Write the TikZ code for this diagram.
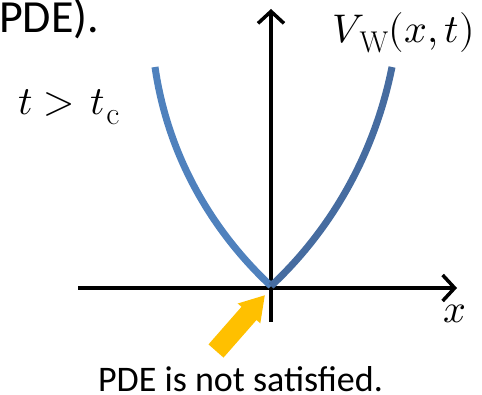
\documentclass[tikz,border=0pt]{standalone}
\usepackage{fontspec}
\usepackage{unicode-math}
\setmathfont{Latin Modern Math}
\setsansfont{Carlito}
\usetikzlibrary{arrows.meta}
\definecolor{curveL}{RGB}{79,129,189}
\definecolor{curveR}{RGB}{70,108,160}
\definecolor{gold}{RGB}{255,192,0}
\newcommand{\bigsub}[2]{\hbox{\rmfamily\upshape\fontsize{#1}{#1}\selectfont #2}}
\tikzset{
  axis/.style={line width=3.5pt, -{Straight Barb[length=12pt,width=26pt,line width=3.5pt]}},
  branch/.style={line width=7pt},
  bigmath/.style={inner sep=0pt, font=\fontsize{40}{48}\selectfont},
  sanslabel/.style={inner sep=0pt, font=\sffamily\fontsize{36}{43}\selectfont}
}
\begin{document}
\begin{tikzpicture}[x=1pt,y=-1pt]
\useasboundingbox (0,0) rectangle (482,395);
% axes
\coordinate (xl) at (78,288);
\coordinate (xr) at (457,288);
\coordinate (yb) at (271,322);
\coordinate (yt) at (271,9);
\coordinate (v) at (271,286);
\coordinate (lt) at (155,67);
\coordinate (rt) at (392,67);
\draw[axis] (xl) -- (xr);
\draw[axis] (yb) -- (yt);
% curve
\draw[branch, curveL] (v) .. controls (213,232) and (168,157) .. (lt);
\draw[branch, curveR] (v) .. controls (329,232) and (374,157) .. (rt);
% labels
\node[bigmath, anchor=base west] (tlab) at (18,115) {$t>\kern5pt t_{\kern1pt\bigsub{32}{c}}$};
\node[bigmath, anchor=base west] (vlab) at (332,43) {$V_{\kern4pt\bigsub{30}{W}}(x,t)$};
\node[bigmath, anchor=base west] (xlab) at (443,323) {$x$};
\node[inner sep=0pt, anchor=base west, font=\sffamily\fontsize{46}{55}\selectfont] (pde) at (-1,33) {PDE).};
\node[sanslabel, anchor=base] (note) at (240.5,391) {PDE is not satisfied.};
% yellow pointer arrow
\fill[gold] (223.5,357.6) -- (208.5,344.4) -- (241.5,306.8) -- (237.7,303.5)
  -- (264.8,295.3) -- (260.3,323.3) -- (256.5,320.0) -- cycle;
\end{tikzpicture}
\end{document}
